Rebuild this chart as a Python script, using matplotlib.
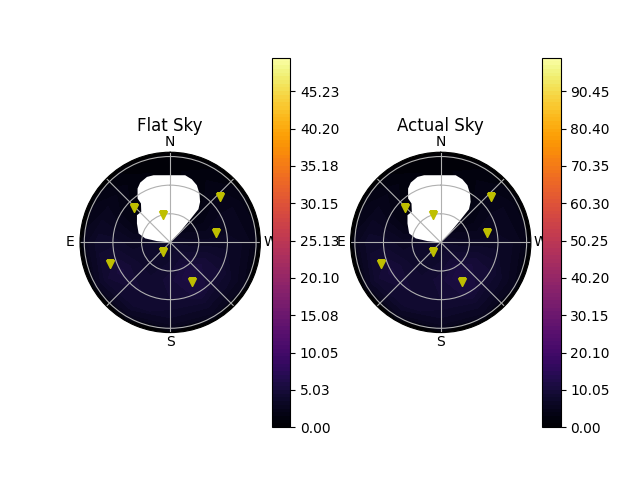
import numpy as np
import matplotlib
matplotlib.use('Agg')
import matplotlib.pyplot as plt

# sky brightness, rows = zenith distance, cols = azimuth
azimuths = np.arange(0, 360, 30)
zeniths = np.array([0, 20, 40, 60, 75, 89, 94.5])

flat_sky = np.array([
    [3.5, 3.5, 3.5, 3.5, 3.5, 3.5, 3.5, 3.5, 3.5, 3.5, 3.5, 3.5],
    [1.5, 1.5, 2.5, 3.5, 4.0, 4.0, 4.0, 4.5, 4.0, 3.2, 2.5, 1.5],
    [0.8, 0.8, 1.5, 3.2, 4.0, 4.0, 4.8, 6.0, 4.8, 3.2, 2.0, 1.0],
    [0.8, 1.0, 2.0, 3.8, 5.2, 4.5, 4.5, 5.2, 4.5, 3.2, 2.5, 1.2],
    [0.8, 1.2, 2.5, 3.8, 4.5, 4.2, 3.8, 3.8, 3.4, 3.0, 2.5, 1.5],
    [0.6, 0.8, 1.8, 2.8, 3.0, 2.8, 2.8, 2.8, 2.5, 2.2, 1.8, 1.0],
    [0.0, 0.0, 0.0, 0.0, 0.0, 0.0, 0.0, 0.0, 0.0, 0.0, 0.0, 0.0],
])

actual_sky = np.array([
    [7.0, 7.0, 7.0, 7.0, 7.0, 7.0, 7.0, 7.0, 7.0, 7.0, 7.0, 7.0],
    [3.0, 3.0, 5.0, 7.0, 8.0, 8.0, 8.0, 9.0, 8.0, 6.4, 5.0, 3.0],
    [1.5, 1.5, 3.0, 6.4, 8.0, 8.0, 9.6, 12.0, 9.6, 6.4, 4.0, 2.0],
    [1.5, 2.0, 4.0, 7.6, 10.4, 9.0, 9.0, 10.4, 9.0, 6.4, 5.0, 2.5],
    [1.5, 2.5, 5.0, 7.6, 9.0, 8.4, 7.6, 7.6, 6.8, 6.0, 5.0, 3.0],
    [1.2, 1.6, 3.5, 5.5, 6.0, 5.6, 5.6, 5.6, 5.0, 4.4, 3.6, 2.0],
    [0.0, 0.0, 0.0, 0.0, 0.0, 0.0, 0.0, 0.0, 0.0, 0.0, 0.0, 0.0],
])

flat_max = 49.75
actual_max = 99.5

# masked (moon) region outline, azimuth / zenith in degrees
mask_az = [0, 84.4, 80.9, 74.1, 60.3, 50.7, 43.4, 36.9, 36.6, 31.2, 26.6,
           19.5, 13.9, 0, -12.6, -18.9, -25.0, -30.9, -36.4, -40.4, -41.5, -43.1]
mask_zen = [0, 14.0, 26.5, 34.4, 40.1, 45.0, 44.1, 51.0, 57.3, 66.0, 70.1,
            72.8, 72.5, 70.4, 72.1, 69.9, 66.1, 59.7, 52.8, 45.7, 28.9, 15.3]

# star positions
star_az = [46.6, 15.4, 312.2, 281.1, 140.7, 109.9, 208.5]
star_zen = [52.2, 30.3, 70.9, 49.0, 12.7, 66.7, 47.5]

fig, axes = plt.subplots(1, 2, subplot_kw={'projection': 'polar'}, figsize=(6.4, 4.8))

az_closed = np.radians(np.append(azimuths, 360))
T, R = np.meshgrid(az_closed, zeniths)

for ax, data, vmax, title in [(axes[0], flat_sky, flat_max, 'Flat Sky'),
                              (axes[1], actual_sky, actual_max, 'Actual Sky')]:
    ax.set_theta_zero_location('N')
    ax.set_facecolor('black')
    Z = np.concatenate([data, data[:, :1]], axis=1)
    levels = np.linspace(0, vmax, 100)
    cs = ax.contourf(T, R, Z, levels=levels, cmap='inferno')
    ax.fill(np.radians(mask_az), mask_zen, color='white', lw=0)
    ax.plot(np.radians(star_az), star_zen, 'yv')
    ax.set_ylim(0, 94.5)
    ax.set_yticks([30, 60, 90])
    ax.set_yticklabels([])
    ax.set_xticks(np.radians(np.arange(0, 360, 45)))
    ax.set_xticklabels(['N', '', 'E', '', 'S', '', 'W', ''])
    ax.tick_params(axis='x', pad=-3.5)
    ax.set_title(title, pad=0.5)
    fig.colorbar(cs, ax=ax)

plt.savefig('out.png')
